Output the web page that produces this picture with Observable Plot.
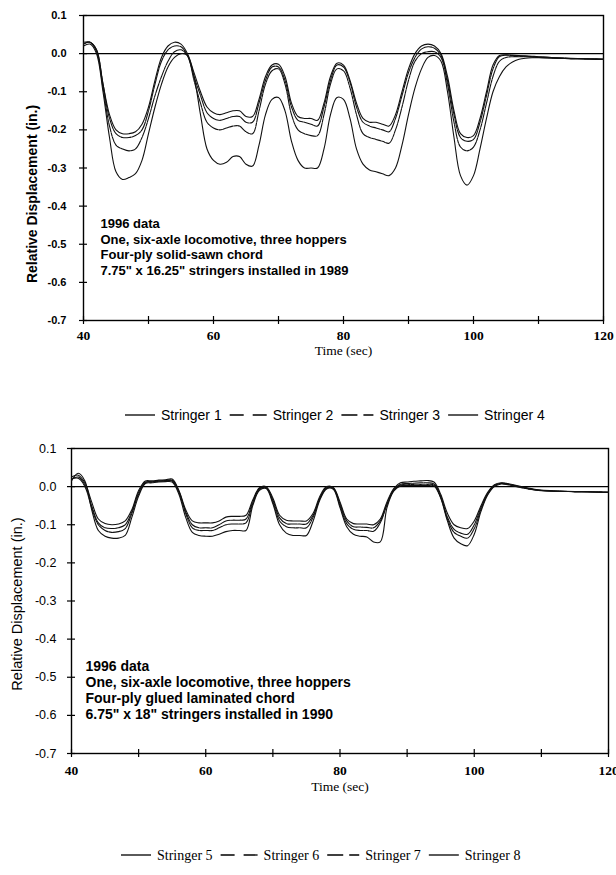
<!DOCTYPE html>
<html><head><meta charset="utf-8">
<script src="https://cdn.jsdelivr.net/npm/d3@7"></script>
<script src="https://cdn.jsdelivr.net/npm/@observablehq/plot@0.6"></script>
<style>
html,body{margin:0;padding:0;background:#fff}
body{width:616px;height:875px;position:relative;overflow:hidden}
.abs{position:absolute;left:0}
</style></head><body>
<div id="c1" class="abs" style="top:0px"></div>
<div id="l1" class="abs" style="top:402px"></div>
<div id="c2" class="abs" style="top:433px"></div>
<div id="l2" class="abs" style="top:842px"></div>
<script>
// ---------- data ----------
const time = [40,41,42,43,44,45,46,47,48,49,50,51,52,53,54,55,56,57,58,59,60,61,62,63,64,65,66,67,68,69,70,71,72,73,74,75,76,77,78,79,80,81,82,83,84,85,86,87,88,89,90,91,92,93,94,95,96,97,98,99,100,101,102,103,104,105,106,107,108,109,110,112,115,118,120];

const xLabelTicks = [40, 60, 80, 100, 120];
const xTickMarks = [40, 50, 60, 70, 80, 90, 100, 110, 120];
const yTicks = [0.1, 0.0, -0.1, -0.2, -0.3, -0.4, -0.5, -0.6, -0.7];

// Top chart: solid-sawn chord
const stringer1 = [0.025,0.03,0.01,-0.08,-0.16,-0.2,-0.21,-0.21,-0.205,-0.185,-0.14,-0.07,-0.01,0.02,0.03,0.025,0.0,-0.05,-0.1,-0.14,-0.155,-0.16,-0.155,-0.15,-0.15,-0.165,-0.165,-0.12,-0.06,-0.03,-0.028,-0.06,-0.13,-0.165,-0.17,-0.17,-0.175,-0.13,-0.06,-0.025,-0.03,-0.07,-0.13,-0.17,-0.18,-0.18,-0.185,-0.19,-0.16,-0.1,-0.04,0.0,0.02,0.025,0.02,0.0,-0.06,-0.15,-0.21,-0.22,-0.215,-0.17,-0.1,-0.03,-0.005,-0.003,-0.004,-0.005,-0.006,-0.007,-0.008,-0.01,-0.012,-0.014,-0.015];
const stringer2 = [0.025,0.03,0.01,-0.08,-0.17,-0.21,-0.22,-0.22,-0.215,-0.2,-0.15,-0.08,-0.02,0.01,0.02,0.018,-0.005,-0.06,-0.11,-0.155,-0.17,-0.175,-0.17,-0.165,-0.165,-0.18,-0.18,-0.13,-0.07,-0.035,-0.035,-0.07,-0.14,-0.175,-0.18,-0.185,-0.19,-0.14,-0.07,-0.03,-0.035,-0.075,-0.14,-0.18,-0.19,-0.195,-0.2,-0.205,-0.17,-0.11,-0.05,-0.01,0.012,0.018,0.014,-0.005,-0.07,-0.16,-0.22,-0.23,-0.225,-0.18,-0.11,-0.04,-0.008,-0.004,-0.005,-0.006,-0.007,-0.008,-0.009,-0.011,-0.013,-0.014,-0.015];
const stringer3 = [0.03,0.03,0.005,-0.09,-0.19,-0.24,-0.25,-0.255,-0.25,-0.22,-0.17,-0.11,-0.06,-0.02,0.005,0.01,-0.005,-0.07,-0.13,-0.18,-0.195,-0.2,-0.195,-0.19,-0.19,-0.205,-0.21,-0.15,-0.08,-0.045,-0.04,-0.08,-0.16,-0.2,-0.21,-0.215,-0.215,-0.16,-0.08,-0.04,-0.045,-0.09,-0.16,-0.21,-0.22,-0.225,-0.23,-0.235,-0.2,-0.14,-0.07,-0.02,0.0,0.005,0.005,-0.01,-0.08,-0.18,-0.245,-0.255,-0.245,-0.2,-0.13,-0.06,-0.02,-0.01,-0.008,-0.008,-0.008,-0.009,-0.01,-0.011,-0.013,-0.014,-0.015];
const stringer4 = [0.02,0.025,0.0,-0.1,-0.22,-0.31,-0.33,-0.325,-0.315,-0.28,-0.21,-0.14,-0.08,-0.035,-0.01,0.0,-0.005,-0.06,-0.16,-0.25,-0.28,-0.29,-0.285,-0.27,-0.27,-0.29,-0.295,-0.24,-0.16,-0.12,-0.115,-0.15,-0.23,-0.28,-0.3,-0.3,-0.3,-0.25,-0.16,-0.115,-0.12,-0.17,-0.25,-0.29,-0.305,-0.31,-0.315,-0.32,-0.3,-0.24,-0.16,-0.09,-0.04,-0.01,-0.005,-0.02,-0.1,-0.22,-0.32,-0.345,-0.32,-0.25,-0.17,-0.1,-0.06,-0.035,-0.022,-0.015,-0.012,-0.011,-0.011,-0.012,-0.013,-0.014,-0.015];

// Bottom chart: glued laminated chord
const stringer5 = [0.025,0.03,0.01,-0.04,-0.085,-0.097,-0.1,-0.098,-0.09,-0.06,-0.01,0.015,0.015,0.017,0.018,0.02,-0.01,-0.06,-0.09,-0.095,-0.095,-0.095,-0.09,-0.08,-0.078,-0.078,-0.075,-0.035,-0.003,0.0,-0.03,-0.075,-0.088,-0.09,-0.09,-0.09,-0.07,-0.025,0.0,-0.002,-0.04,-0.085,-0.097,-0.098,-0.098,-0.1,-0.085,-0.04,-0.005,0.01,0.012,0.014,0.015,0.016,0.012,-0.02,-0.07,-0.1,-0.108,-0.11,-0.09,-0.05,-0.015,0.005,0.01,0.008,0.004,0.0,-0.004,-0.007,-0.009,-0.011,-0.013,-0.014,-0.015];
const stringer6 = [0.02,0.025,0.005,-0.05,-0.095,-0.108,-0.11,-0.108,-0.1,-0.065,-0.015,0.012,0.013,0.015,0.016,0.017,-0.012,-0.065,-0.1,-0.108,-0.108,-0.108,-0.1,-0.09,-0.088,-0.088,-0.085,-0.04,-0.005,-0.002,-0.035,-0.082,-0.097,-0.098,-0.098,-0.098,-0.075,-0.03,-0.003,-0.004,-0.045,-0.09,-0.105,-0.106,-0.107,-0.108,-0.09,-0.045,-0.008,0.006,0.008,0.009,0.01,0.01,0.007,-0.025,-0.08,-0.112,-0.122,-0.125,-0.1,-0.055,-0.018,0.003,0.009,0.007,0.003,-0.001,-0.005,-0.008,-0.01,-0.012,-0.013,-0.014,-0.015];
const stringer7 = [0.02,0.022,0.0,-0.055,-0.1,-0.115,-0.12,-0.118,-0.11,-0.07,-0.02,0.01,0.012,0.014,0.015,0.015,-0.015,-0.07,-0.108,-0.115,-0.115,-0.115,-0.108,-0.1,-0.098,-0.098,-0.095,-0.045,-0.007,-0.003,-0.04,-0.09,-0.105,-0.108,-0.108,-0.108,-0.08,-0.032,-0.004,-0.005,-0.05,-0.097,-0.112,-0.115,-0.115,-0.117,-0.095,-0.048,-0.01,0.004,0.005,0.006,0.006,0.006,0.004,-0.028,-0.085,-0.12,-0.13,-0.135,-0.11,-0.06,-0.02,0.002,0.008,0.006,0.002,-0.002,-0.005,-0.008,-0.01,-0.012,-0.013,-0.014,-0.015];
const stringer8 = [0.015,0.035,0.015,-0.06,-0.115,-0.13,-0.135,-0.135,-0.128,-0.08,-0.025,0.008,0.01,0.012,0.013,0.012,-0.02,-0.08,-0.12,-0.128,-0.13,-0.13,-0.125,-0.118,-0.115,-0.115,-0.115,-0.05,-0.01,-0.005,-0.045,-0.1,-0.122,-0.128,-0.128,-0.128,-0.09,-0.035,-0.006,-0.007,-0.055,-0.105,-0.125,-0.13,-0.132,-0.145,-0.145,-0.055,-0.012,0.002,0.003,0.003,0.003,0.003,0.002,-0.03,-0.09,-0.135,-0.15,-0.155,-0.125,-0.065,-0.022,0.0,0.007,0.005,0.001,-0.003,-0.006,-0.009,-0.011,-0.012,-0.013,-0.014,-0.015];

const legend1 = ["Stringer 1", "Stringer 2", "Stringer 3", "Stringer 4"];
const legend2 = ["Stringer 5", "Stringer 6", "Stringer 7", "Stringer 8"];
const notes1 = ["1996 data", "One, six-axle locomotive, three hoppers", "Four-ply solid-sawn chord", "7.75\" x 16.25\" stringers installed in 1989"];
const notes2 = ["1996 data", "One, six-axle locomotive, three hoppers", "Four-ply glued laminated chord", "6.75\" x 18\" stringers installed in 1990"];

// ---------- styling ----------
const SANS = "'Liberation Sans', Arial, Helvetica, sans-serif";
const SERIF = "'Liberation Serif', 'Times New Roman', Times, serif";
const dashes = [null, "10,1", "10,1,3,1", null];
const legendDashes = [null, "14,9", "16,6,10,100", null];
const legendSample = [30, 37, 32, 30];

function series(vals) { return time.map((t, i) => ({t, v: vals[i]})); }

function chart(cfg) {
  const W = 616, H = cfg.height;
  const plotH = H - cfg.mt - cfg.mb;
  const plotW = W - cfg.ml - cfg.mr;
  const lines = cfg.values.map((vals, i) => Plot.line(series(vals), {
    x: "t", y: "v", stroke: "#111", strokeWidth: 1.1, curve: "catmull-rom",
    strokeDasharray: dashes[i] || undefined
  }));
  return Plot.plot({
    width: W, height: H,
    marginLeft: cfg.ml, marginRight: cfg.mr, marginTop: cfg.mt, marginBottom: cfg.mb,
    style: {background: "#fff", color: "#000", fontFamily: SANS, overflow: "visible"},
    x: {domain: [40, 120]},
    y: {domain: [-0.7, 0.1]},
    marks: [
      Plot.frame({stroke: "#000", strokeWidth: 1.4}),
      Plot.ruleY([0], {stroke: "#000", strokeWidth: 1.4}),
      ...lines,
      // outward ticks
      Plot.axisX({ticks: xTickMarks, tickSize: 4, tickFormat: () => "", label: null, strokeWidth: 1.2}),
      Plot.axisY({ticks: yTicks, tickSize: 4, tickFormat: () => "", label: null, strokeWidth: 1.2}),
      // inward ticks
      Plot.ruleX(xTickMarks, {stroke: "#000", strokeWidth: 1.2, insetTop: plotH - 4}),
      Plot.ruleY(yTicks, {stroke: "#000", strokeWidth: 1.2, insetRight: plotW - 4}),
      // labels
      Plot.axisX({ticks: xLabelTicks, tickSize: 0, tickPadding: cfg.xPad, tickFormat: d => String(d),
        fontFamily: SERIF, fontWeight: "bold", fontSize: 13.5, label: null}),
      Plot.axisY({ticks: yTicks, tickSize: 0, tickPadding: cfg.yPad, tickFormat: d => d.toFixed(1),
        fontFamily: SANS, fontWeight: cfg.yWeight, fontSize: cfg.yFont, label: null}),
      Plot.text(["Time (sec)"], {frameAnchor: "bottom", dy: cfg.timeDy, fontFamily: SERIF, fontSize: 13.5, fill: "#000"}),
      Plot.text(["Relative Displacement (in.)"], {frameAnchor: "left", textAnchor: "middle", rotate: -90,
        dx: cfg.labDx, dy: cfg.labDy,
        fontFamily: SANS, fontWeight: cfg.labWeight, fontSize: cfg.labFont, fill: "#000"}),
      Plot.text([cfg.notes.join("\n")], {frameAnchor: "top-left", textAnchor: "start", lineAnchor: "top",
        dx: cfg.noteDx, dy: cfg.noteDy, lineHeight: cfg.noteLH, fontFamily: SANS, fontWeight: "bold",
        fontSize: cfg.noteFont, fill: "#000"})
    ]
  });
}

document.getElementById("c1").append(chart({
  height: 368, ml: 83, mr: 13, mt: 15, mb: 48, values: [stringer1, stringer2, stringer3, stringer4],
  xPad: 10, yPad: 17, timeDy: 34, yWeight: "bold", yFont: 11,
  labDx: -51, labDy: 26, labWeight: "bold", labFont: 14,
  notes: notes1, noteDx: 17, noteDy: 202, noteLH: 1.19, noteFont: 13
}));

document.getElementById("c2").append(chart({
  height: 372, ml: 71, mr: 8, mt: 15, mb: 52, values: [stringer5, stringer6, stringer7, stringer8],
  xPad: 12, yPad: 15, timeDy: 37, yWeight: "normal", yFont: 12.5,
  labDx: -54, labDy: 3, labWeight: "normal", labFont: 14.5,
  notes: notes2, noteDx: 14, noteDy: 211, noteLH: 1.14, noteFont: 14
}));

function legend(el, labels, font, startX) {
  const svg = d3.select(el).append("svg").attr("width", 616).attr("height", 26);
  let x = startX;
  labels.forEach((lab, i) => {
    svg.append("line").attr("x1", x).attr("x2", x + legendSample[i]).attr("y1", 13).attr("y2", 13)
      .attr("stroke", "#000").attr("stroke-width", 1.3)
      .attr("stroke-dasharray", legendDashes[i]);
    x += legendSample[i] + 6;
    const t = svg.append("text").attr("x", x).attr("y", 13).attr("dy", "0.35em")
      .attr("font-family", font).attr("font-size", 14).attr("fill", "#000").text(lab);
    x += t.node().getComputedTextLength() + 8;
  });
}
legend(document.getElementById("l1"), legend1, SANS, 125);
legend(document.getElementById("l2"), legend2, SERIF, 121);
</script>
</body></html>
